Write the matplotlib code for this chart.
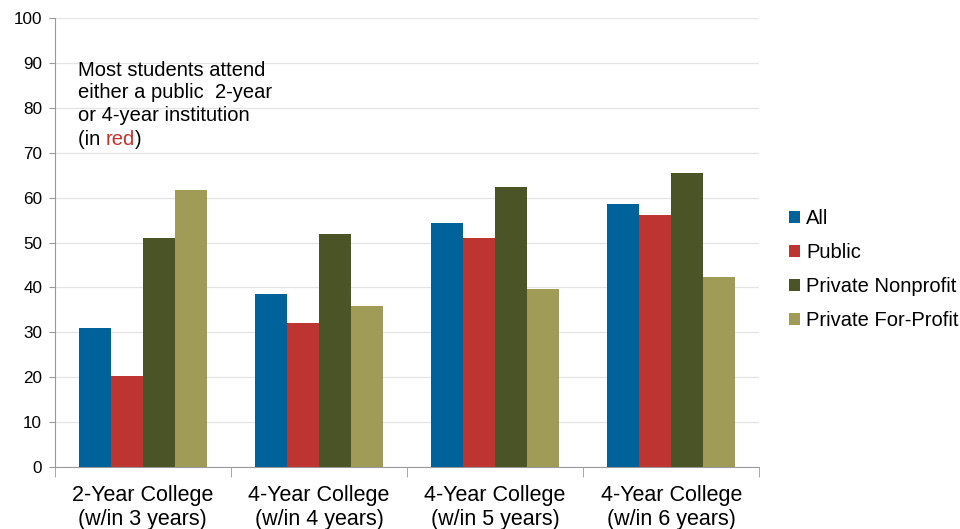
import matplotlib.pyplot as plt
import numpy as np

plt.rcParams['font.family'] = ['Liberation Sans', 'DejaVu Sans']

# datos
categorias = ['2-Year College\n(w/in 3 years)', '4-Year College\n(w/in 4 years)',
              '4-Year College\n(w/in 5 years)', '4-Year College\n(w/in 6 years)']
series = ['All', 'Public', 'Private Nonprofit', 'Private For-Profit']
valores_all = [31.0, 38.5, 54.3, 58.5]
valores_public = [20.3, 32.0, 51.1, 56.1]
valores_nonprofit = [51.1, 51.9, 62.4, 65.4]
valores_forprofit = [61.8, 35.8, 39.7, 42.3]
colores = ['#00629b', '#be3431', '#4a5427', '#a09c58']

datos = [valores_all, valores_public, valores_nonprofit, valores_forprofit]

fig = plt.figure(figsize=(9.6, 5.29), dpi=100)
ax = fig.add_axes([0.057, 0.117, 0.734, 0.849])

x = np.arange(len(categorias))
ancho = 0.182
for i, (nombre, vals) in enumerate(zip(series, datos)):
    ax.bar(x + (i - 1.5) * ancho, vals, ancho, color=colores[i], label=nombre, zorder=3)

ax.set_xlim(-0.5, len(categorias) - 0.5)
ax.set_ylim(0, 100)
ax.set_yticks(range(0, 101, 10))
ax.grid(axis='y', color='#e4e4e4', linewidth=0.9, zorder=0)
ax.tick_params(axis='y', labelsize=12.3, color='#999999', length=4, pad=5)

# etiquetas de categoria y marcas entre grupos
ax.set_xticks(x)
ax.set_xticklabels(categorias, fontsize=15.5, linespacing=1.18)
ax.tick_params(axis='x', length=0, pad=13)
ax.set_xticks(np.arange(-0.5, len(categorias)), minor=True)
ax.tick_params(axis='x', which='minor', length=7, color='#999999')

for lado in ['top', 'right']:
    ax.spines[lado].set_visible(False)
for lado in ['left', 'bottom']:
    ax.spines[lado].set_color('#999999')

# nota
t = ax.text(0.033, 0.905, 'Most students attend\neither a public  2-year\nor 4-year institution',
            transform=ax.transAxes, fontsize=14.5, va='top', ha='left', linespacing=1.24)
t3 = ax.annotate('(in ', xycoords=t, xy=(0, 0), xytext=(0, -3.5), textcoords='offset points',
                 va='top', ha='left', fontsize=14.5)
t4 = ax.annotate('red', xycoords=t3, xy=(1, 0), va='bottom', ha='left', fontsize=14.5, color='#be3431')
ax.annotate(')', xycoords=t4, xy=(1, 0), va='bottom', ha='left', fontsize=14.5)

leg = ax.legend(loc='center left', bbox_to_anchor=(0.803, 0.49), bbox_transform=fig.transFigure,
                frameon=False, fontsize=14.5, handlelength=0.55, handleheight=0.55,
                handletextpad=0.3, labelspacing=0.74)

plt.savefig('out.png', dpi=100)
